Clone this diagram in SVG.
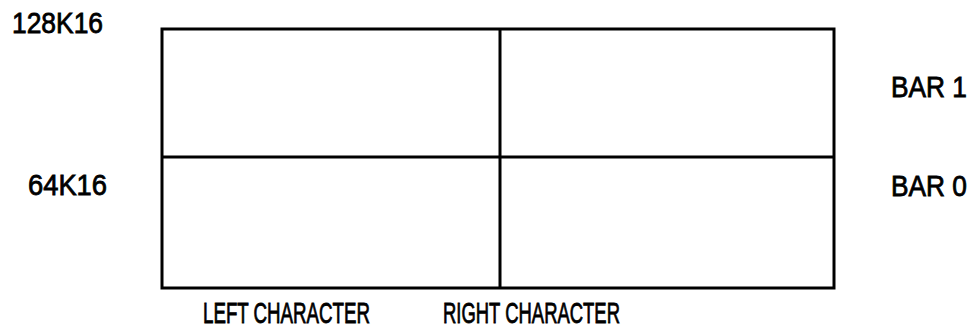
<svg xmlns="http://www.w3.org/2000/svg" width="975" height="328" viewBox="0 0 975 328">
<style>
.t{font-family:"Liberation Sans","DejaVu Sans",sans-serif;font-size:29px;fill:#000;stroke:#000;stroke-width:0.8}
.ln{stroke:#000;stroke-width:3;fill:none}
</style>
<rect width="975" height="328" fill="#fff"/>
<g id="grid">
<rect class="ln" x="162" y="29" width="672" height="259"/>
<line class="ln" x1="162" y1="157" x2="834" y2="157"/>
<line class="ln" x1="500" y1="29" x2="500" y2="288"/>
</g>
<g id="labels">
<text class="t" x="12" y="33" textLength="91" lengthAdjust="spacingAndGlyphs">128K16</text>
<text class="t" x="28" y="195" textLength="79" lengthAdjust="spacingAndGlyphs">64K16</text>
<text class="t" x="891" y="97" textLength="76" lengthAdjust="spacingAndGlyphs">BAR 1</text>
<text class="t" x="891" y="196" textLength="76" lengthAdjust="spacingAndGlyphs">BAR 0</text>
<text class="t" x="203" y="323" textLength="167" lengthAdjust="spacingAndGlyphs">LEFT CHARACTER</text>
<text class="t" x="443" y="323" textLength="177" lengthAdjust="spacingAndGlyphs">RIGHT CHARACTER</text>
</g>
</svg>
